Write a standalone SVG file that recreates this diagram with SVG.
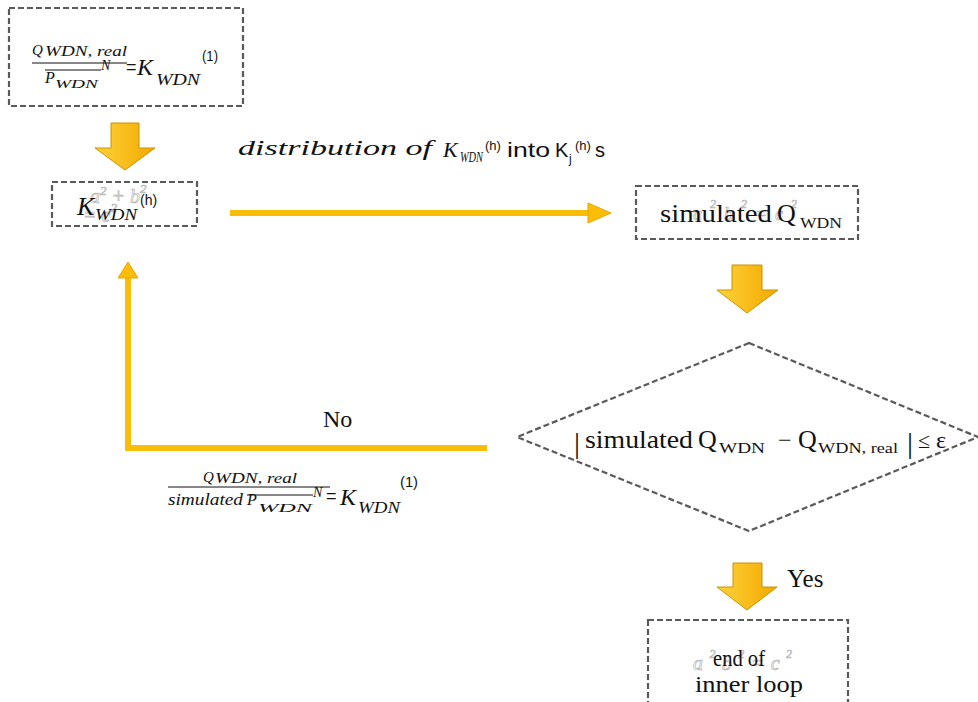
<svg xmlns="http://www.w3.org/2000/svg" width="978" height="702" viewBox="0 0 978 702">
<style>
.box{fill:none;stroke:#5a5a5a;stroke-width:2.2;stroke-dasharray:6 3}
.mi{font-family:'Liberation Serif','DejaVu Serif','Times New Roman','Noto Serif',FreeSerif,Tinos,serif;font-style:italic;fill:#111}
.rm{font-family:'Liberation Serif','DejaVu Serif','Times New Roman','Noto Serif',FreeSerif,Tinos,serif;fill:#111}
.sn{font-family:'Liberation Sans','DejaVu Sans',sans-serif;fill:#111}
.ghost{font-family:'Liberation Serif','DejaVu Serif',serif;font-style:italic;fill:none;stroke:#b5b5b5;stroke-width:0.7}
.blk{fill:url(#g);stroke:#c99200;stroke-width:1}
.ln{fill:none;stroke:#fbbd08;stroke-width:6}
.ah{fill:#fbbd08;stroke:#e5a800;stroke-width:1}
</style>
<defs>
<linearGradient id="g" x1="0" y1="0" x2="1" y2="0">
<stop offset="0" stop-color="#ffd23a"/>
<stop offset="1" stop-color="#f2a900"/>
</linearGradient>
</defs>

<g id="connectors">
<path class="blk" d="M111,123 H139 V148 H155 L125,170 L95,148 H111 Z"/>
<path class="ln" d="M230,213 H592"/>
<path class="ah" d="M588,203 L611,213 L588,223 Z"/>
<path class="blk" d="M732,265 H762 V290 H778 L747,313 L717,290 H732 Z"/>
<path class="ln" d="M487,448 H128 V274"/>
<path class="ah" d="M118,278 L128,262 L138,278 Z"/>
<path class="blk" d="M733,563 H762 V587 H777 L747,610 L717,587 H733 Z"/>
<text class="mi" x="238" y="155" font-size="22" font-family="Liberation Serif, DejaVu Serif, serif" textLength="194" lengthAdjust="spacingAndGlyphs">distribution of</text>
<text class="mi" x="443" y="157" font-size="22">K</text>
<text class="mi" x="460" y="162" font-size="14" textLength="23" lengthAdjust="spacingAndGlyphs">WDN</text>
<text class="sn" x="485" y="150" font-size="13">(h)</text>
<text class="sn" x="507" y="157" font-size="20" textLength="43" lengthAdjust="spacingAndGlyphs">into</text>
<text class="sn" x="555" y="157" font-size="20">K</text>
<text class="sn" x="569" y="163" font-size="12">j</text>
<text class="sn" x="575" y="150" font-size="13">(h)</text>
<text class="sn" x="595" y="157" font-size="20">s</text>
<text class="rm" x="323" y="427" font-size="24">No</text>
<text class="mi" x="203" y="482" font-size="15">Q</text>
<text class="mi" x="215" y="483" font-size="14" textLength="82" lengthAdjust="spacingAndGlyphs">WDN, real</text>
<line x1="168" y1="487" x2="330" y2="487" stroke="#111" stroke-width="1.2"/>
<text class="mi" x="168" y="505" font-size="16" textLength="75" lengthAdjust="spacingAndGlyphs">simulated</text>
<text class="mi" x="247" y="505" font-size="16">P</text>
<text class="mi" x="258" y="512" font-size="13" textLength="54" lengthAdjust="spacingAndGlyphs">WDN</text>
<line x1="247" y1="495" x2="313" y2="495" stroke="#111" stroke-width="1"/>
<text class="mi" x="313" y="497" font-size="14">N</text>
<text class="sn" x="326" y="502" font-size="18">=</text>
<text class="mi" x="340" y="505" font-size="24">K</text>
<text class="mi" x="358" y="513" font-size="16" textLength="42" lengthAdjust="spacingAndGlyphs">WDN</text>
<text class="sn" x="400" y="487" font-size="14" textLength="18" lengthAdjust="spacingAndGlyphs">(1)</text>
<text class="rm" x="787" y="587" font-size="25">Yes</text>
</g>

<g id="node-ratio">
<rect class="box" x="9" y="8" width="234" height="98"/>
<text class="mi" x="32" y="55" font-size="15">Q</text>
<text class="mi" x="45" y="56" font-size="14" textLength="82" lengthAdjust="spacingAndGlyphs">WDN, real</text>
<line x1="32" y1="63" x2="127" y2="63" stroke="#111" stroke-width="1.2"/>
<text class="mi" x="45" y="83" font-size="16">P</text>
<text class="mi" x="55" y="88" font-size="13" textLength="43" lengthAdjust="spacingAndGlyphs">WDN</text>
<line x1="45" y1="70" x2="101" y2="70" stroke="#111" stroke-width="1"/>
<text class="mi" x="101" y="70" font-size="14">N</text>
<text class="sn" x="126" y="73" font-size="18">=</text>
<text class="mi" x="137" y="75" font-size="24">K</text>
<text class="mi" x="156" y="85" font-size="16" textLength="44" lengthAdjust="spacingAndGlyphs">WDN</text>
<text class="sn" x="202" y="61" font-size="14" textLength="16" lengthAdjust="spacingAndGlyphs">(1)</text>
</g>

<g id="node-k">
<rect class="box" x="52" y="182" width="145" height="44"/>
<text class="ghost" x="90" y="203" font-size="20">a<tspan font-size="13" dy="-8">2</tspan><tspan dy="8"> + b</tspan><tspan font-size="13" dy="-10">2</tspan></text>
<text class="ghost" x="83" y="222" font-size="20">= c<tspan font-size="13" dy="-10">2</tspan></text>
<text class="mi" x="77" y="215" font-size="26">K</text>
<text class="mi" x="95" y="220" font-size="16" textLength="42" lengthAdjust="spacingAndGlyphs">WDN</text>
<text class="sn" x="140" y="205" font-size="14">(h)</text>
</g>

<g id="node-sim">
<rect class="box" x="636" y="186" width="222" height="53"/>
<text class="ghost" x="693" y="220" font-size="18" textLength="104" lengthAdjust="spacing">a<tspan font-size="12" dy="-12">2</tspan><tspan dy="12">b</tspan><tspan font-size="12" dy="-12">2</tspan><tspan dy="12">=c</tspan><tspan font-size="12" dy="-12">2</tspan></text>
<text class="rm" x="660" y="222" font-size="26" textLength="112" lengthAdjust="spacingAndGlyphs">simulated</text>
<text class="rm" x="777" y="222" font-size="26">Q</text>
<text class="rm" x="800" y="228" font-size="15" textLength="42" lengthAdjust="spacingAndGlyphs">WDN</text>
</g>

<g id="node-check">
<polygon class="box" points="749,343 978,437 749,531 517,437"/>
<text class="rm" x="574" y="453" font-size="30">|</text>
<text class="rm" x="585" y="448" font-size="26" textLength="108" lengthAdjust="spacingAndGlyphs">simulated</text>
<text class="rm" x="698" y="448" font-size="26">Q</text>
<text class="rm" x="719" y="453" font-size="15" textLength="46" lengthAdjust="spacingAndGlyphs">WDN</text>
<text class="rm" x="778" y="448" font-size="24">−</text>
<text class="rm" x="798" y="448" font-size="26">Q</text>
<text class="rm" x="818" y="453" font-size="15" textLength="80" lengthAdjust="spacingAndGlyphs">WDN, real</text>
<text class="rm" x="907" y="453" font-size="30">|</text>
<text class="rm" x="918" y="448" font-size="22">≤</text>
<text class="rm" x="936" y="448" font-size="24">ε</text>
</g>

<g id="node-end">
<rect class="box" x="648" y="620" width="200" height="100"/>
<text class="ghost" x="693" y="670" font-size="20" textLength="99" lengthAdjust="spacing">a<tspan font-size="12" dy="-12">2</tspan><tspan dy="12">b</tspan><tspan font-size="12" dy="-12">2</tspan><tspan dy="12">=c</tspan><tspan font-size="12" dy="-12">2</tspan></text>
<text class="rm" x="713" y="666" font-size="24" textLength="52" lengthAdjust="spacingAndGlyphs">end of</text>
<text class="rm" x="695" y="692" font-size="24" textLength="108" lengthAdjust="spacingAndGlyphs">inner loop</text>
</g>
</svg>
